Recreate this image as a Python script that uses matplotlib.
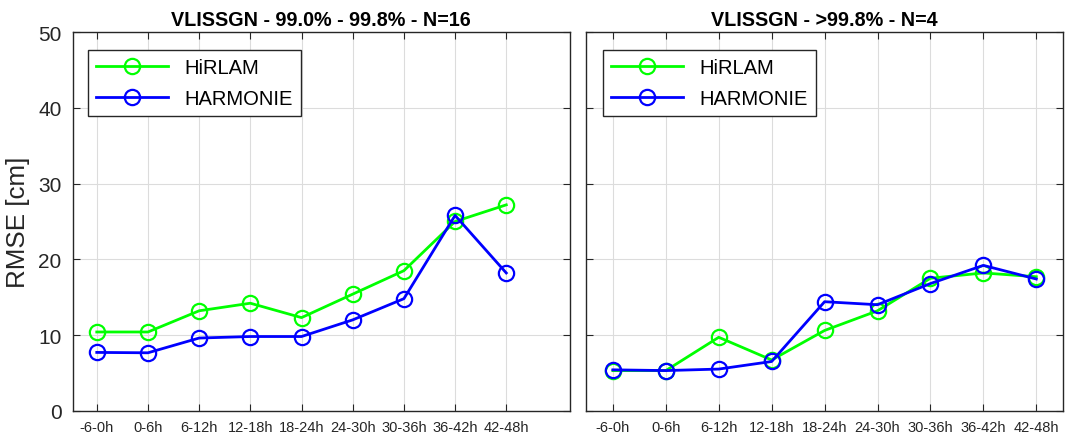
import numpy as np
import matplotlib.pyplot as plt

plt.rcParams['font.family'] = ['Liberation Sans', 'DejaVu Sans']

LEADS = ["-6-0h", "0-6h", "6-12h", "12-18h", "18-24h",
         "24-30h", "30-36h", "36-42h", "42-48h"]

# 99.0% - 99.8%, N=16
HIRLAM_A = [10.4, 10.4, 13.2, 14.2, 12.3, 15.4, 18.5, 25.0, 27.2]
HARMONIE_A = [7.7, 7.65, 9.6, 9.8, 9.8, 12.0, 14.8, 25.8, 18.2]

# >99.8%, N=4
HIRLAM_B = [5.3, 5.3, 9.7, 6.7, 10.6, 13.2, 17.5, 18.2, 17.7]
HARMONIE_B = [5.4, 5.3, 5.5, 6.5, 14.4, 14.0, 16.8, 19.2, 17.4]

TITLES = ["VLISSGN - 99.0% - 99.8% - N=16", "VLISSGN - >99.8% - N=4"]

GREEN = "#00ff00"
BLUE = "#0000ff"


def draw_panel(ax, hirlam, harmonie, title, xlim, leg_anchor):
    x = np.arange(1, len(LEADS) + 1)
    ax.plot(x, hirlam, "-o", color=GREEN, lw=2, ms=11, mfc="none",
            mew=1.6, label="HiRLAM")
    ax.plot(x, harmonie, "-o", color=BLUE, lw=2, ms=11, mfc="none",
            mew=1.6, label="HARMONIE")
    ax.set_xlim(*xlim)
    ax.set_ylim(0, 50)
    ax.set_xticks(x)
    ax.set_xticklabels(LEADS, color="#262626")
    ax.set_yticks([0, 10, 20, 30, 40, 50])
    ax.grid(True, color="#dcdcdc", lw=0.8)
    ax.set_axisbelow(True)
    ax.tick_params(direction="in", top=True, right=True, length=5,
                   color="#262626", labelsize=15, labelcolor="#262626")
    ax.tick_params(axis="y", pad=8)
    ax.tick_params(axis="x", labelsize=10.5, pad=7)
    for s in ax.spines.values():
        s.set_color("#262626")
        s.set_linewidth(1.0)
    ax.set_title(title, fontsize=14.2, fontweight="bold", pad=5)
    leg = ax.legend(loc="upper left", bbox_to_anchor=leg_anchor,
                    fontsize=14.5, handlelength=3.6, fancybox=False,
                    framealpha=1, edgecolor="#262626", borderaxespad=0,
                    labelspacing=0.55)
    leg.get_frame().set_linewidth(1.0)


fig = plt.figure(figsize=(10.9, 4.39), dpi=100)
ax1 = fig.add_axes([0.0667, 0.0622, 0.456, 0.862])
ax2 = fig.add_axes([0.538, 0.0622, 0.437, 0.862])

draw_panel(ax1, HIRLAM_A, HARMONIE_A, TITLES[0], (0.53, 10.24), (0.030, 0.952))
draw_panel(ax2, HIRLAM_B, HARMONIE_B, TITLES[1], (0.5, 9.5), (0.034, 0.952))
ax1.set_ylabel("RMSE [cm]", fontsize=18.7, color="#262626", labelpad=6)
ax2.set_yticklabels([])

fig.savefig("out.png", dpi=100)
